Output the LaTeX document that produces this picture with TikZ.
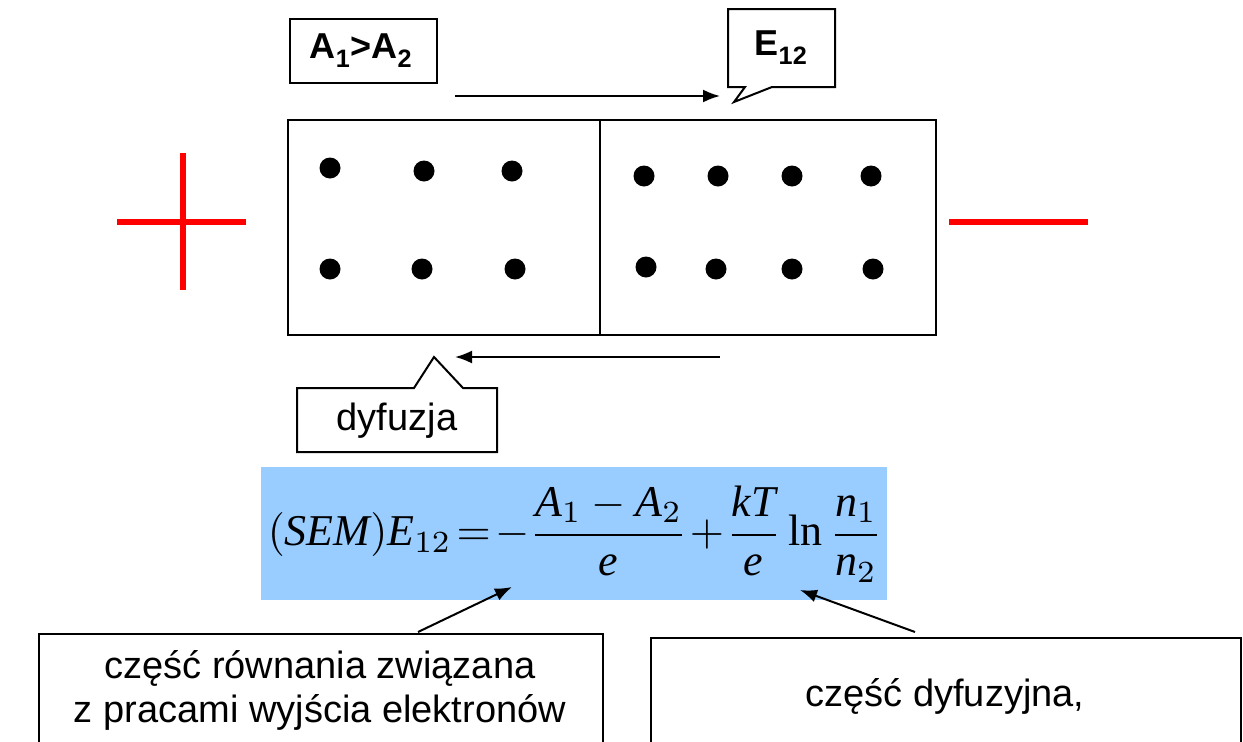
\documentclass[tikz,border=0pt]{standalone}
\usepackage{fontspec}
\setmainfont{Liberation Serif}
\setsansfont{Liberation Sans}
\usepackage{graphicx}
\usetikzlibrary{arrows.meta}
\definecolor{eqblue}{HTML}{99CCFF}
\definecolor{pmred}{HTML}{FF0000}
\begin{document}
\begin{tikzpicture}[x=1pt,y=-1pt,
  outline/.style={draw=black,line width=2pt},
  dot/.style={circle,fill=black,inner sep=0pt,minimum size=21pt},
  arr/.style={line width=2pt,-{Latex[length=17pt,width=13pt]}},
  lbl/.style={font=\sffamily\fontsize{38}{44}\selectfont,align=center,inner sep=0pt},
  blbl/.style={font=\sffamily\bfseries\fontsize{36}{40}\selectfont,inner sep=0pt},
  sign/.style={draw=pmred,line width=5.5pt},
  box/.style={outline,rectangle,inner sep=0pt,anchor=north west}
]
\useasboundingbox (0,0) rectangle (1243,742);
\clip (0,0) rectangle (1243,742);

% plus and minus signs
\draw[sign] (117,222) -- (246,222);
\draw[sign] (183,153) -- (183,290);
\draw[sign] (949,222) -- (1088,222);

% main cells
\node[box,minimum width=312pt,minimum height=215pt] (cellL) at (287,119) {};
\node[box,minimum width=336pt,minimum height=215pt] (cellR) at (599,119) {};

% dots
\node[dot] (l11) at (330,168) {};
\node[dot] (l12) at (424,171) {};
\node[dot] (l13) at (512,171) {};
\node[dot] (l21) at (330,269) {};
\node[dot] (l22) at (422,269) {};
\node[dot] (l23) at (515,269) {};
\node[dot] (r11) at (644,176) {};
\node[dot] (r12) at (718,176) {};
\node[dot] (r13) at (792,176) {};
\node[dot] (r14) at (871,176) {};
\node[dot] (r21) at (646,267) {};
\node[dot] (r22) at (716,269) {};
\node[dot] (r23) at (792,269) {};
\node[dot] (r24) at (873,269) {};

% A1>A2 box
\node[box,minimum width=147pt,minimum height=64pt] (abox) at (289,18) {};
\node[blbl] (atext) at (361,51) {A\textsubscript{1}>A\textsubscript{2}};

% E12 callout
\draw[outline,line join=miter] (728,9) -- (835,9) -- (835,87) -- (772,87) -- (734,102) -- (745,87) -- (728,87) -- cycle;
\node[blbl] (etext) at (781,48) {E\textsubscript{12}};

% top arrow
\coordinate (t1) at (455,96);
\coordinate (t2) at (720,96);
\draw[arr] (t1) -- (t2);

% bottom arrow
\coordinate (b1) at (720,357);
\coordinate (b2) at (455,357);
\draw[arr] (b1) -- (b2);

% dyfuzja callout
\draw[outline,line join=miter] (297,388) -- (414,388) -- (434,357) -- (463,388) -- (497,388) -- (497,452) -- (297,452) -- cycle;
\node[lbl] (dtext) at (397,421) {dyfuzja};

% formula
\fill[eqblue] (261,467) rectangle (887,600);
\node[inner sep=0pt] (eq) at (575,534) {\resizebox{614pt}{!}{$\displaystyle (\mathit{SEM})\mathit{E}_{12}\!=\!-\frac{\mathit{A}_1-\mathit{A}_2}{\mathit{e}}\!+\!\frac{\mathit{kT}}{\mathit{e}}\ln\frac{\mathit{n}_1}{\mathit{n}_2}$}};

% bottom boxes
\node[box,minimum width=564pt,minimum height=140pt] (boxL) at (38,633) {};
\node[lbl] (ltext) at (320,690) {część równania związana\\z pracami wyjścia elektronów};
\node[box,minimum width=590pt,minimum height=140pt] (boxR) at (650,637) {};
\node[lbl] (rtext) at (945,696) {część dyfuzyjna,};

% arrows to formula
\coordinate (la) at (418,632);
\coordinate (lb) at (512,587);
\draw[arr] (la) -- (lb);
\coordinate (ra) at (915,632);
\coordinate (rb) at (800,590);
\draw[arr] (ra) -- (rb);
\end{tikzpicture}
\end{document}
